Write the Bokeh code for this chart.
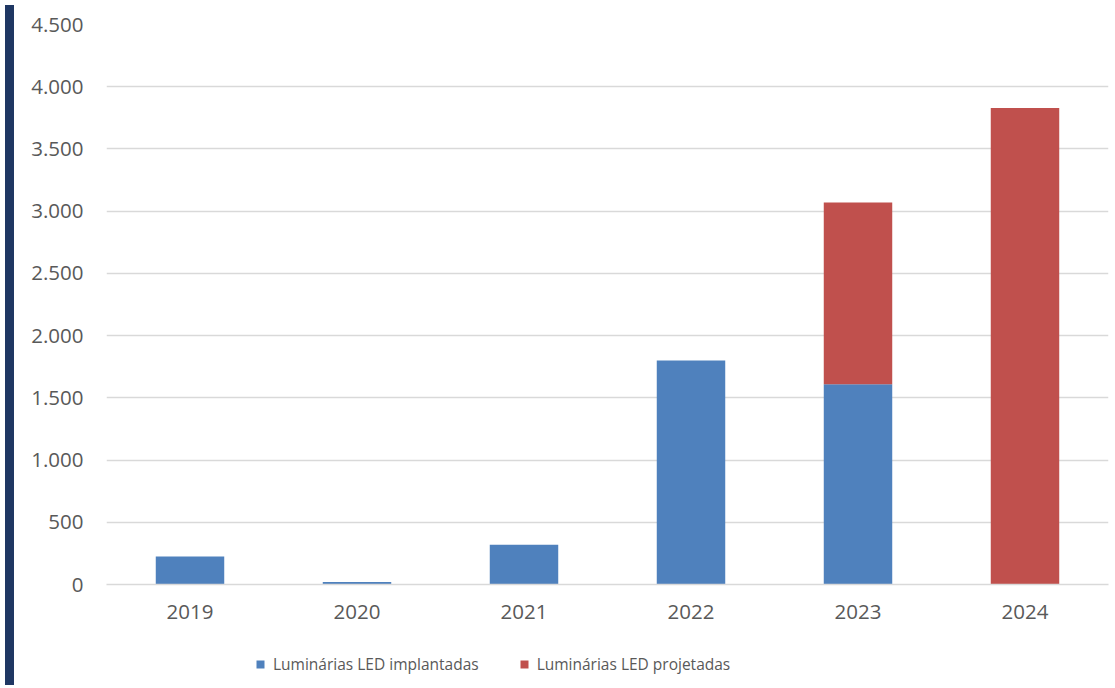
from bokeh.plotting import figure
from bokeh.models import FactorRange, Range1d, FixedTicker, Legend, LegendItem, Div
from bokeh.layouts import row, column
from bokeh.embed import file_html
from bokeh.resources import INLINE

years = ["2019", "2020", "2021", "2022", "2023", "2024"]
implantadas = [225, 20, 320, 1800, 1610, 0]
projetadas = [0, 0, 0, 0, 1460, 3830]
series_names = ["Luminárias LED implantadas", "Luminárias LED projetadas"]
y_ticks = [0, 500, 1000, 1500, 2000, 2500, 3000, 3500, 4000, 4500]
y_tick_labels = ["0", "500", "1.000", "1.500", "2.000", "2.500", "3.000", "3.500", "4.000", "4.500"]

BLUE = "#4f81bd"
RED = "#c0504d"
TEXT = "#595959"
GRID = "#d9d9d9"
FONT = "Open Sans"

data = {"year": years, "imp": implantadas, "proj": projetadas}

p = figure(
    width=1091, height=640,
    x_range=FactorRange(*years, range_padding=0),
    y_range=Range1d(0, 4500),
    output_backend="svg", toolbar_location=None,
    min_border_left=87, min_border_right=2, min_border_top=24, min_border_bottom=56,
    background_fill_color="white", border_fill_color="white",
)
p.outline_line_color = None

rs = p.vbar_stack(["imp", "proj"], x="year", width=0.41, source=data,
                  color=[BLUE, RED], line_color=None)

p.xgrid.grid_line_color = None
p.ygrid.grid_line_color = GRID
p.ygrid.grid_line_width = 1.3
p.yaxis.ticker = FixedTicker(ticks=y_ticks)
p.yaxis.major_label_overrides = {t: l for t, l in zip(y_ticks, y_tick_labels)}

for ax in (p.xaxis, p.yaxis):
    ax.major_tick_line_color = None
    ax.minor_tick_line_color = None
    ax.major_label_text_color = TEXT
    ax.major_label_text_font = FONT
    ax.major_label_text_font_size = "20.5px"
p.yaxis.axis_line_color = None
p.yaxis.major_label_standoff = 17
p.xaxis.axis_line_color = GRID
p.xaxis.axis_line_width = 1.3
p.xaxis.major_label_standoff = 14

# legend strip below the chart (its frame is aligned with the chart's frame)
lg = figure(
    width=1091, height=40, x_range=Range1d(0, 1), y_range=Range1d(0, 1),
    output_backend="svg", toolbar_location=None,
    min_border=0, background_fill_color="white", border_fill_color="white",
)
lg.outline_line_color = None
lg.axis.visible = False
lg.grid.visible = False
d1 = lg.vbar(x=[0.5], top=[0], bottom=[0], width=0.0, color=BLUE, line_color=None)
d2 = lg.vbar(x=[0.5], top=[0], bottom=[0], width=0.0, color=RED, line_color=None)

legend = Legend(
    items=[LegendItem(label=series_names[0], renderers=[d1]),
           LegendItem(label=series_names[1], renderers=[d2])],
    location=(149, 5), orientation="horizontal",
    glyph_width=10, glyph_height=10, label_standoff=8, spacing=40,
    padding=0, margin=0, border_line_color=None, background_fill_alpha=0,
    label_text_font=FONT, label_text_font_size="15.5px", label_text_color=TEXT,
)
lg.add_layout(legend)

strip = Div(width=9, height=680, styles={"background-color": "#1f3763"})
layout = row(strip, column(p, lg))

open("out.html", "w").write(file_html(layout, INLINE))
